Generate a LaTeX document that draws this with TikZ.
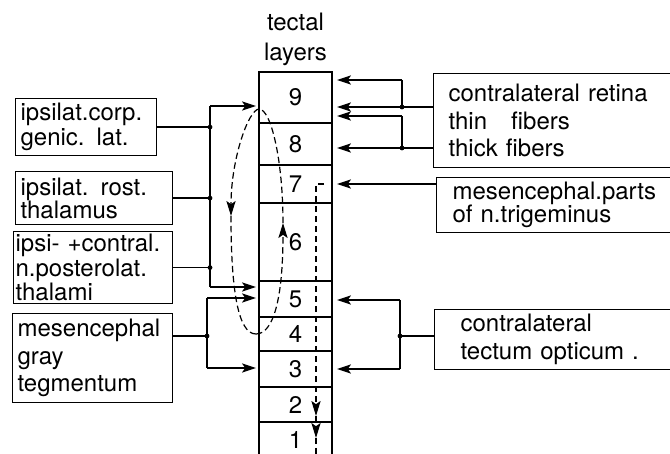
\documentclass[tikz,border=0pt]{standalone}
\usepackage{fontspec}
\setmainfont{TeX Gyre Heros}
\usetikzlibrary{arrows.meta,positioning}
\newcommand\setlead[1]{\fontsize{12}{#1}\selectfont}

\begin{document}
\begin{tikzpicture}[
        x=0.5pt, y=-0.5pt,
        line width=0.6pt,
        layer/.style={
            draw,
            line width=0.8pt,
            minimum width=36.5pt,
            inner sep=0pt,
            outer sep=0pt,
            font=\setlead{14}
        },
        source/.style={
            draw,
            anchor=north west,
            align=left,
            inner ysep=1pt
        },
        feed/.style={
            -{Stealth[length=7pt,width=4.6pt,inset=1.6pt]}
        },
        route/.style={
            dashed,
            dash pattern=on 3.2pt off 1.8pt
        },
        flow/.style={
            route,
            -{Stealth[length=7.5pt,width=4.6pt,inset=1.6pt]}
        },
        junction/.style={
            fill,
            radius=1.2pt
        }
    ]

        \useasboundingbox (0,0) rectangle (670,454);
        \clip (0,0) rectangle (670,454);

        \node[layer, minimum height=25.5pt, anchor=north] (l9) at (295.5,72) {9};
        \node[layer, minimum height=21pt, below=0pt of l9] (l8) {8};
        \node[layer, minimum height=19pt, below=0pt of l8] (l7) {7};
        \node[layer, minimum height=39pt, below=0pt of l7] (l6) {6};
        \node[layer, minimum height=18pt, below=0pt of l6] (l5) {5};
        \node[layer, minimum height=17pt, below=0pt of l5] (l4) {4};
        \node[layer, minimum height=18pt, below=0pt of l4] (l3) {3};
        \node[layer, minimum height=17.5pt, below=0pt of l3] (l2) {2};
        \node[layer, minimum height=18pt, below=0pt of l2] (l1) {1};

        \node[above=1pt of l9, align=center, inner sep=2pt, font=\setlead{15}] (title)
            {tectal\\layers};

        \node[source, text width=65.5pt, minimum height=28.5pt, inner xsep=2.5pt,
              font=\setlead{10}] (ipsicorp) at (15,98)
            {ipsilat.corp.\\genic. lat.};

        \node[source, text width=73.5pt, minimum height=26.5pt, inner xsep=2.5pt,
              font=\setlead{11.5}] (rostthal) at (15,171)
            {ipsilat. rost.\\thalamus};

        \node[source, text width=77.5pt, minimum height=36pt, inner xsep=1pt,
              font=\setlead{10}] (posterolat) at (13,231)
            {ipsi- +contral.\\n.posterolat.\\thalami};

        \node[source, text width=75pt, minimum height=44.5pt, inner xsep=2.5pt,
              font=\setlead{13.75}] (graytegm) at (12,313)
            {mesencephal\\gray\\tegmentum};

        \node[source, text width=105pt, minimum height=47pt, inner xsep=7.5pt,
              font=\setlead{13.75}] (retina) at (433,73)
            {contralateral retina\\thin\quad fibers\\thick fibers};

        \node[source, text width=104pt, minimum height=27.5pt, inner xsep=8pt,
              font=\setlead{11.5}] (trigem) at (436,177)
            {mesencephal.parts\\of n.trigeminus};

        \node[source, text width=94pt, minimum height=30pt, inner xsep=13pt,
              font=\setlead{14}] (tectum) at (434,309)
            {contralateral\\tectum opticum .};

        % left inputs
        \coordinate (busA top) at (210,106);
        \coordinate (busA bot) at (210,287);
        \coordinate (jcorp) at (ipsicorp.east -| busA top);
        \coordinate (jrost) at (rostthal.east -| busA top);
        \coordinate (jpost) at (posterolat.east -| busA top);
        \coordinate (busB top) at (207,298);
        \coordinate (busB bot) at (207,368);
        \coordinate (jgray) at (207,336);

        \draw[feed, shorten >=1.5pt] (busA top) -- (busA top -| l9.west);
        \draw[feed, shorten >=1.5pt] (busA bot) -- (busA bot -| l5.west);
        \draw (busA top) -- (busA bot);
        \draw (ipsicorp.east) -- (jcorp);
        \draw (rostthal.east) -- (jrost);
        \draw (posterolat.east) -- (jpost);
        \fill[junction] (jcorp) circle;
        \fill[junction] (jrost) circle;
        \fill[junction] (jpost) circle;

        \draw[feed, shorten >=1.5pt] (busB top) -- (busB top -| l5.west);
        \draw[feed, shorten >=1.5pt] (busB bot) -- (busB bot -| l3.west);
        \draw (busB top) -- (busB bot);
        \draw (jgray -| graytegm.east) -- (jgray);
        \fill[junction] (jgray) circle;

        % right inputs
        \coordinate (thin top) at (402,80);
        \coordinate (jthin) at (402,107);
        \coordinate (thick top) at (402,116);
        \coordinate (jthick) at (402,148);
        \coordinate (tect top) at (400,300);
        \coordinate (tect bot) at (400,369);
        \coordinate (jtect) at (400,336);

        \draw[feed, shorten >=2.5pt] (thin top) -- (thin top -| l9.east);
        \draw[feed, shorten >=2.5pt] (jthin) -- (jthin -| l9.east);
        \draw (thin top) -- (jthin);
        \draw (retina.west |- jthin) -- (jthin);
        \fill[junction] (jthin) circle;

        \draw[feed, shorten >=2.5pt] (thick top) -- (thick top -| l9.east);
        \draw[feed, shorten >=2.5pt] (jthick) -- (jthick -| l8.east);
        \draw (thick top) -- (jthick);
        \draw (retina.west |- jthick) -- (jthick);
        \fill[junction] (jthick) circle;

        \draw[feed, shorten >=2.5pt] (trigem.west |- l7.east) -- (l7.east);

        \draw[feed, shorten >=2.5pt] (tect top) -- (tect top -| l5.east);
        \draw[feed, shorten >=2.5pt] (tect bot) -- (tect bot -| l3.east);
        \draw (tect top) -- (tect bot);
        \draw (tectum.west |- jtect) -- (jtect);
        \fill[junction] (jtect) circle;

        % intrinsic loop
        \coordinate (loop top) at (259,109);
        \coordinate (loop left) at (231,216);
        \coordinate (loop bot) at (256,334);
        \coordinate (loop right) at (283,223);

        \draw[flow] (loop top) .. controls (248,110) and (231,160) .. (loop left);
        \draw[route] (loop left) .. controls (231,290) and (238,334) .. (loop bot);
        \draw[flow] (loop bot) .. controls (273,334) and (283,300) .. (loop right);
        \draw[route] (loop right) .. controls (283,160) and (271,109) .. (loop top);

        % descending path from layer 7
        \coordinate (trig start) at ([xshift=-4pt]l7.east);
        \coordinate (descent a) at (316,416);
        \coordinate (descent b) at (316,438);
        \coordinate (descent end) at (316,460);

        \draw[flow] (trig start) -| (descent a);
        \draw[flow] (descent a) -- (descent b);
        \draw[route] (descent b) -- (descent end);

    \end{tikzpicture}
\end{document}
